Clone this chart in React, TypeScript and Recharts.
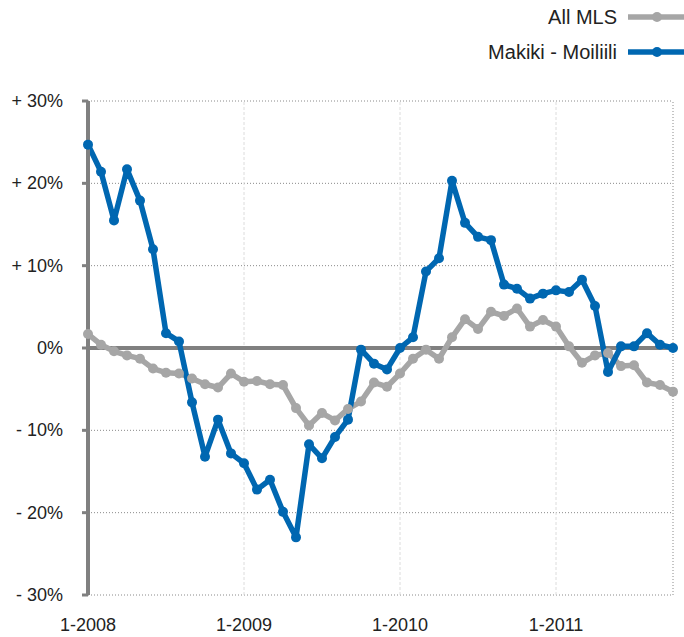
import React from 'react';
import { LineChart, Line, XAxis, YAxis, CartesianGrid, ReferenceLine } from 'recharts';

// monthly % change, Jan 2008 .. Oct 2011
const monthIndex = Array.from({ length: 46 }, (_, i) => i);
const allMls = [1.7, 0.4, -0.4, -0.9, -1.3, -2.5, -3.0, -3.1, -3.7, -4.4, -4.8, -3.1, -4.1, -4.0, -4.4, -4.5, -7.3, -9.4, -7.9, -8.8, -7.4, -6.5, -4.2, -4.7, -3.1, -1.3, -0.2, -1.3, 1.3, 3.5, 2.3, 4.4, 3.9, 4.8, 2.6, 3.4, 2.6, 0.2, -1.8, -0.9, -0.6, -2.2, -2.1, -4.2, -4.5, -5.3];
const makiki = [24.7, 21.4, 15.5, 21.7, 17.9, 12.0, 1.8, 0.8, -6.6, -13.2, -8.7, -12.8, -14.0, -17.2, -16.0, -19.9, -23.0, -11.7, -13.4, -10.8, -8.7, -0.2, -1.9, -2.6, 0.0, 1.3, 9.3, 10.9, 20.3, 15.2, 13.5, 13.1, 7.7, 7.2, 6.0, 6.6, 7.0, 6.8, 8.3, 5.1, -2.9, 0.2, 0.2, 1.8, 0.4, 0.0];

const xTicks = [0, 12, 24, 36];
const xTickLabels = ['1-2008', '1-2009', '1-2010', '1-2011'];
const yTicks = [-30, -20, -10, 0, 10, 20, 30];

const seriesNames = ['All MLS', 'Makiki - Moiliili'];
const GRAY = '#a6a6a6';
const BLUE = '#0067b1';
const AXIS = '#808080';
const FONT = '"Liberation Sans", Arial, Helvetica, sans-serif';

const data = monthIndex.map((m, i) => ({ m, all: allMls[i], makiki: makiki[i] }));

const fmtY = (v: number) => (v > 0 ? `+ ${v}%` : v < 0 ? `- ${Math.abs(v)}%` : '0%');

const YTick = ({ x, y, payload }: any) => (
  <text x={x - 17} y={y} textAnchor="end" dominantBaseline="central" fontSize={18} fill="#222" fontFamily={FONT}>
    {fmtY(payload.value)}
  </text>
);

const XTick = ({ x, y, payload }: any) => {
  const idx = xTicks.indexOf(payload.value);
  return (
    <text x={x} y={y + 22} textAnchor="middle" dominantBaseline="central" fontSize={18} fill="#222" fontFamily={FONT}>
      {xTickLabels[idx]}
    </text>
  );
};

const LegendBox = () => {
  const colors = [GRAY, BLUE];
  return (
    <svg width={684} height={70} style={{ position: 'absolute', left: 0, top: 0, pointerEvents: 'none' }}>
      {seriesNames.map((name, i) => {
        const cy = 17 + i * 35;
        return (
          <g key={name}>
            <text x={617} y={cy} textAnchor="end" dominantBaseline="central" fontSize={20} fill="#222" fontFamily={FONT}>
              {name}
            </text>
            <line x1={628} x2={686} y1={cy} y2={cy} stroke={colors[i]} strokeWidth={5.5} />
            <circle cx={657} cy={cy} r={5} fill={colors[i]} />
          </g>
        );
      })}
    </svg>
  );
};

export default function App() {
  return (
    <div style={{ position: 'absolute', left: 0, top: 0, width: 684, height: 637, background: '#fff' }}>
      <LineChart width={684} height={637} data={data} margin={{ top: 101, right: 11, bottom: 12, left: 0 }}>
        <CartesianGrid horizontal vertical={false} stroke="#8a8a8a" strokeDasharray="1 2" />
        <ReferenceLine x={12} stroke="#dcdcdc" strokeDasharray="3 2" />
        <ReferenceLine x={24} stroke="#dcdcdc" strokeDasharray="3 2" />
        <ReferenceLine x={36} stroke="#dcdcdc" strokeDasharray="3 2" />
        <ReferenceLine x={45} stroke="#8a8a8a" strokeDasharray="1 2" />
        <ReferenceLine y={0} stroke={AXIS} strokeWidth={4} />
        <XAxis
          dataKey="m"
          type="number"
          domain={[0, 45]}
          ticks={xTicks}
          tick={<XTick />}
          axisLine={false}
          tickLine={false}
          height={30}
          interval={0}
        />
        <YAxis
          type="number"
          domain={[-30, 30]}
          ticks={yTicks}
          tick={<YTick />}
          width={88}
          axisLine={{ stroke: AXIS, strokeWidth: 4 }}
          tickLine={{ stroke: AXIS, strokeWidth: 3 }}
          tickSize={6}
          interval={0}
        />
        <Line
          dataKey="all"
          name={seriesNames[0]}
          stroke={GRAY}
          strokeWidth={5.5}
          strokeLinejoin="round"
          dot={{ r: 5, fill: GRAY, stroke: 'none' }}
          isAnimationActive={false}
        />
        <Line
          dataKey="makiki"
          name={seriesNames[1]}
          stroke={BLUE}
          strokeWidth={5.5}
          strokeLinejoin="round"
          dot={{ r: 5, fill: BLUE, stroke: 'none' }}
          isAnimationActive={false}
        />
      </LineChart>
      <LegendBox />
    </div>
  );
}
